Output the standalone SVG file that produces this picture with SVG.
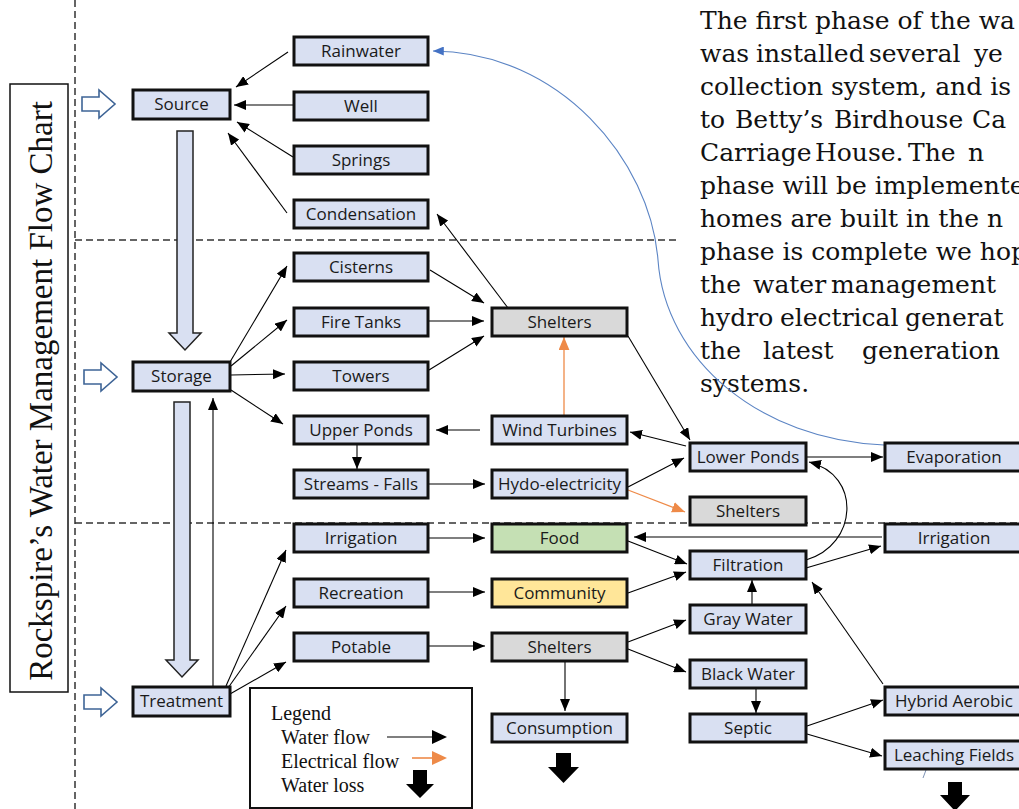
<svg xmlns="http://www.w3.org/2000/svg" width="1019" height="809" viewBox="0 0 1019 809">
<defs>
<style>
.box{stroke:#111;stroke-width:3}
.bl{fill:#D9E0F2}
.gr{fill:#D9D9D9}
.gn{fill:#C5E0B4}
.yl{fill:#FFE699}
.lbl{font-family:"Open Sans","Liberation Sans",sans-serif;font-size:17px;text-anchor:middle;fill:#1a1a1a}
.c{stroke:#000;stroke-width:1.1;fill:none;marker-end:url(#ah)}
.o{stroke:#EE8A48;stroke-width:1.3;fill:none;marker-end:url(#ao)}
.dash{stroke:#333;stroke-width:1.5;stroke-dasharray:7 4;fill:none}
.big{fill:#D9E0F2;stroke:#222;stroke-width:1.5}
.side{fill:#fff;stroke:#3E6496;stroke-width:1.6}
.para{font-family:"DejaVu Serif","Liberation Serif",serif;font-size:25px;fill:#111}
.ser{font-family:"Liberation Serif","Times New Roman",serif;fill:#111}
.loss{fill:#000}
</style>
<marker id="ah" viewBox="0 0 12 10" refX="12" refY="5" markerWidth="12" markerHeight="10" markerUnits="userSpaceOnUse" orient="auto"><path d="M0,0 L12,5 L0,10 z" fill="#000"/></marker>
<marker id="ao" viewBox="0 0 12 10" refX="12" refY="5" markerWidth="13" markerHeight="11" markerUnits="userSpaceOnUse" orient="auto"><path d="M0,0 L12,5 L0,10 z" fill="#EE8A48"/></marker>
<marker id="ab" viewBox="0 0 12 10" refX="12" refY="5" markerWidth="11" markerHeight="9" markerUnits="userSpaceOnUse" orient="auto"><path d="M0,0 L12,5 L0,10 z" fill="#4472C4"/></marker>
</defs>
<rect x="0" y="0" width="1019" height="809" fill="#fff"/>

<!-- dashed guide lines -->
<g id="guides">
<line class="dash" x1="75" y1="0" x2="75" y2="809"/>
<line class="dash" x1="75" y1="240" x2="680" y2="240"/>
<line class="dash" x1="75" y1="523" x2="1019" y2="523"/>
</g>

<!-- title -->
<g id="title">
<rect x="10" y="84" width="58" height="608" fill="#fff" stroke="#111" stroke-width="1.5"/>
<text class="ser" font-size="33" text-anchor="middle" transform="translate(52,391) rotate(-90)">Rockspire’s Water Management Flow Chart</text>
</g>

<!-- paragraph -->
<g id="paragraph" class="para">
<text x="700" y="29">The first phase of the wa</text>
<text y="62"><tspan x="700">was </tspan><tspan x="756">installed </tspan><tspan x="869">several </tspan><tspan x="974">ye</tspan></text>
<text x="700" y="95">collection system, and is</text>
<text y="128"><tspan x="700">to </tspan><tspan x="735">Betty’s </tspan><tspan x="834">Birdhouse </tspan><tspan x="972">Ca</tspan></text>
<text y="161"><tspan x="700">Carriage </tspan><tspan x="815">House. </tspan><tspan x="908">The </tspan><tspan x="968">n</tspan></text>
<text x="700" y="194">phase will be implemente</text>
<text x="700" y="227">homes are built in the n</text>
<text x="700" y="260">phase is complete we hop</text>
<text y="293"><tspan x="700">the </tspan><tspan x="753">water </tspan><tspan x="831">management</tspan></text>
<text y="326"><tspan x="700">hydro </tspan><tspan x="780">electrical </tspan><tspan x="905">generat</tspan></text>
<text y="359"><tspan x="700">the </tspan><tspan x="763">latest </tspan><tspan x="862">generation</tspan></text>
<text x="700" y="392">systems.</text>
</g>

<!-- side arrows and big flow arrows -->
<g id="blockarrows">
<polygon class="side" points="82,97 99,97 99,90 115,104 99,118 99,111 82,111"/>
<polygon class="side" points="84,370 101,370 101,363 117,377 101,391 101,384 84,384"/>
<polygon class="side" points="84,695 101,695 101,688 117,702 101,716 101,709 84,709"/>
<polygon class="big" points="177,131 193,131 193,333 201,333 185,350 169,333 177,333"/>
<polygon class="big" points="174,402 190,402 190,660 198,660 182,677 166,660 174,660"/>
</g>

<!-- connectors -->
<g id="connectors">
<line class="c" x1="288" y1="52" x2="236" y2="87"/>
<line class="c" x1="293" y1="105" x2="234" y2="105"/>
<line class="c" x1="293" y1="157" x2="237" y2="122"/>
<line class="c" x1="287" y1="213" x2="228" y2="133"/>
<line class="c" x1="508" y1="308" x2="437" y2="214"/>
<line class="c" x1="230" y1="362" x2="287" y2="266"/>
<line class="c" x1="231" y1="366" x2="287" y2="320"/>
<line class="c" x1="231" y1="375" x2="285" y2="374"/>
<line class="c" x1="231" y1="390" x2="283" y2="424"/>
<line class="c" x1="430" y1="270" x2="484" y2="303"/>
<line class="c" x1="429" y1="321" x2="484" y2="321"/>
<line class="c" x1="429" y1="370" x2="484" y2="336"/>
<line class="c" x1="480" y1="430" x2="436" y2="430"/>
<line class="c" x1="357" y1="445" x2="357" y2="469"/>
<line class="c" x1="429" y1="484" x2="485" y2="484"/>
<line class="o" x1="564" y1="416" x2="564" y2="337"/>
<line class="c" x1="628" y1="336" x2="690" y2="440"/>
<line class="c" x1="686" y1="446" x2="630" y2="432"/>
<line class="c" x1="628" y1="487" x2="684" y2="458"/>
<line class="o" x1="628" y1="490" x2="685" y2="512"/>
<line class="c" x1="806" y1="457" x2="883" y2="457"/>
<path class="c" d="M806,560 C858,545 862,475 809,462"/>
<line class="c" x1="882" y1="537" x2="634" y2="537"/>
<line class="c" x1="806" y1="568" x2="881" y2="546"/>
<line class="c" x1="628" y1="541" x2="687" y2="564"/>
<line class="c" x1="628" y1="593" x2="686" y2="572"/>
<line class="c" x1="752" y1="605" x2="752" y2="580"/>
<line class="c" x1="883" y1="684" x2="812" y2="582"/>
<line class="c" x1="628" y1="642" x2="686" y2="620"/>
<line class="c" x1="628" y1="649" x2="686" y2="672"/>
<line class="c" x1="565" y1="662" x2="565" y2="711"/>
<line class="c" x1="756" y1="688" x2="756" y2="713"/>
<line class="c" x1="807" y1="726" x2="883" y2="700"/>
<line class="c" x1="807" y1="734" x2="882" y2="756"/>
<line class="c" x1="226" y1="686" x2="286" y2="550"/>
<line class="c" x1="228" y1="688" x2="286" y2="606"/>
<line class="c" x1="230" y1="694" x2="286" y2="662"/>
<line class="c" x1="429" y1="538" x2="485" y2="538"/>
<line class="c" x1="429" y1="592" x2="485" y2="592"/>
<line class="c" x1="429" y1="646" x2="485" y2="646"/>
<line class="c" x1="213" y1="687" x2="213" y2="398"/>
<path d="M884,445 C760,440 665,360 658,260 C650,160 560,52 433,51" fill="none" stroke="#5B84C4" stroke-width="1.1" marker-end="url(#ab)"/>
<line x1="926" y1="770" x2="923" y2="778" stroke="#7E93B5" stroke-width="1"/>
</g>

<!-- nodes -->
<g id="n-rainwater"><rect class="box bl" x="294" y="37" width="134" height="28"/><text class="lbl" x="361" y="57">Rainwater</text></g>
<g id="n-source"><rect class="box bl" x="133" y="90" width="97" height="29"/><text class="lbl" x="181.5" y="110">Source</text></g>
<g id="n-well"><rect class="box bl" x="294" y="92" width="134" height="28"/><text class="lbl" x="361" y="112">Well</text></g>
<g id="n-springs"><rect class="box bl" x="294" y="146" width="134" height="28"/><text class="lbl" x="361" y="166">Springs</text></g>
<g id="n-condensation"><rect class="box bl" x="294" y="200" width="134" height="28"/><text class="lbl" x="361" y="220">Condensation</text></g>
<g id="n-cisterns"><rect class="box bl" x="294" y="253" width="134" height="28"/><text class="lbl" x="361" y="273">Cisterns</text></g>
<g id="n-firetanks"><rect class="box bl" x="294" y="308" width="134" height="28"/><text class="lbl" x="361" y="328">Fire Tanks</text></g>
<g id="n-storage"><rect class="box bl" x="133" y="362" width="97" height="29"/><text class="lbl" x="181.5" y="382">Storage</text></g>
<g id="n-towers"><rect class="box bl" x="294" y="362" width="134" height="28"/><text class="lbl" x="361" y="382">Towers</text></g>
<g id="n-upperponds"><rect class="box bl" x="294" y="416" width="134" height="28"/><text class="lbl" x="361" y="436">Upper Ponds</text></g>
<g id="n-streams"><rect class="box bl" x="294" y="470" width="134" height="28"/><text class="lbl" x="361" y="490">Streams - Falls</text></g>
<g id="n-irrigation1"><rect class="box bl" x="294" y="524" width="134" height="28"/><text class="lbl" x="361" y="544">Irrigation</text></g>
<g id="n-recreation"><rect class="box bl" x="294" y="579" width="134" height="28"/><text class="lbl" x="361" y="599">Recreation</text></g>
<g id="n-potable"><rect class="box bl" x="294" y="633" width="134" height="28"/><text class="lbl" x="361" y="653">Potable</text></g>
<g id="n-treatment"><rect class="box bl" x="133" y="687" width="97" height="29"/><text class="lbl" x="181.5" y="707">Treatment</text></g>

<g id="n-shelters1"><rect class="box gr" x="492" y="308" width="135" height="28"/><text class="lbl" x="559.5" y="328">Shelters</text></g>
<g id="n-windturbines"><rect class="box bl" x="492" y="416" width="135" height="28"/><text class="lbl" x="559.5" y="436">Wind Turbines</text></g>
<g id="n-hydro"><rect class="box bl" x="492" y="470" width="135" height="28"/><text class="lbl" x="559.5" y="490">Hydo-electricity</text></g>
<g id="n-food"><rect class="box gn" x="492" y="524" width="135" height="28"/><text class="lbl" x="559.5" y="544">Food</text></g>
<g id="n-community"><rect class="box yl" x="492" y="579" width="135" height="28"/><text class="lbl" x="559.5" y="599">Community</text></g>
<g id="n-shelters3"><rect class="box gr" x="492" y="633" width="135" height="28"/><text class="lbl" x="559.5" y="653">Shelters</text></g>
<g id="n-consumption"><rect class="box bl" x="492" y="714" width="135" height="28"/><text class="lbl" x="559.5" y="734">Consumption</text></g>

<g id="n-lowerponds"><rect class="box bl" x="690" y="443" width="116" height="28"/><text class="lbl" x="748" y="463">Lower Ponds</text></g>
<g id="n-shelters2"><rect class="box gr" x="690" y="497" width="116" height="28"/><text class="lbl" x="748" y="517">Shelters</text></g>
<g id="n-filtration"><rect class="box bl" x="690" y="551" width="116" height="28"/><text class="lbl" x="748" y="571">Filtration</text></g>
<g id="n-graywater"><rect class="box bl" x="690" y="605" width="116" height="28"/><text class="lbl" x="748" y="625">Gray Water</text></g>
<g id="n-blackwater"><rect class="box bl" x="690" y="660" width="116" height="28"/><text class="lbl" x="748" y="680">Black Water</text></g>
<g id="n-septic"><rect class="box bl" x="690" y="714" width="116" height="28"/><text class="lbl" x="748" y="734">Septic</text></g>

<g id="n-evaporation"><rect class="box bl" x="885" y="443" width="138" height="28"/><text class="lbl" x="954" y="463">Evaporation</text></g>
<g id="n-irrigation2"><rect class="box bl" x="885" y="524" width="138" height="28"/><text class="lbl" x="954" y="544">Irrigation</text></g>
<g id="n-hybrid"><rect class="box bl" x="885" y="687" width="138" height="28"/><text class="lbl" x="954" y="707">Hybrid Aerobic</text></g>
<g id="n-leaching"><rect class="box bl" x="885" y="741" width="138" height="28"/><text class="lbl" x="954" y="761">Leaching Fields</text></g>

<!-- water loss arrows -->
<g id="loss">
<polygon class="loss" points="556,753 571,753 571,767 579,767 563.5,783 548,767 556,767"/>
<polygon class="loss" points="948,782 962,782 962,795 970,795 955,811 940,795 948,795"/>
</g>

<!-- legend -->
<g id="legend">
<rect x="250" y="688" width="222" height="120" fill="#fff" stroke="#111" stroke-width="2"/>
<text class="ser" font-size="20" x="271" y="720">Legend</text>
<text class="ser" font-size="20" x="281" y="744">Water flow</text>
<text class="ser" font-size="20" x="281" y="768">Electrical flow</text>
<text class="ser" font-size="20" x="281" y="792">Water loss</text>
<line x1="387" y1="737" x2="433" y2="737" stroke="#000" stroke-width="1.2"/>
<polygon points="432,730 447,737 432,744" fill="#000"/>
<line x1="412" y1="758" x2="433" y2="758" stroke="#EE8A48" stroke-width="1.6"/>
<polygon points="432,751 447,758 432,765" fill="#EE8A48"/>
<polygon class="loss" points="413,770 427,770 427,784 434,784 420,798 406,784 413,784"/>
</g>
</svg>
